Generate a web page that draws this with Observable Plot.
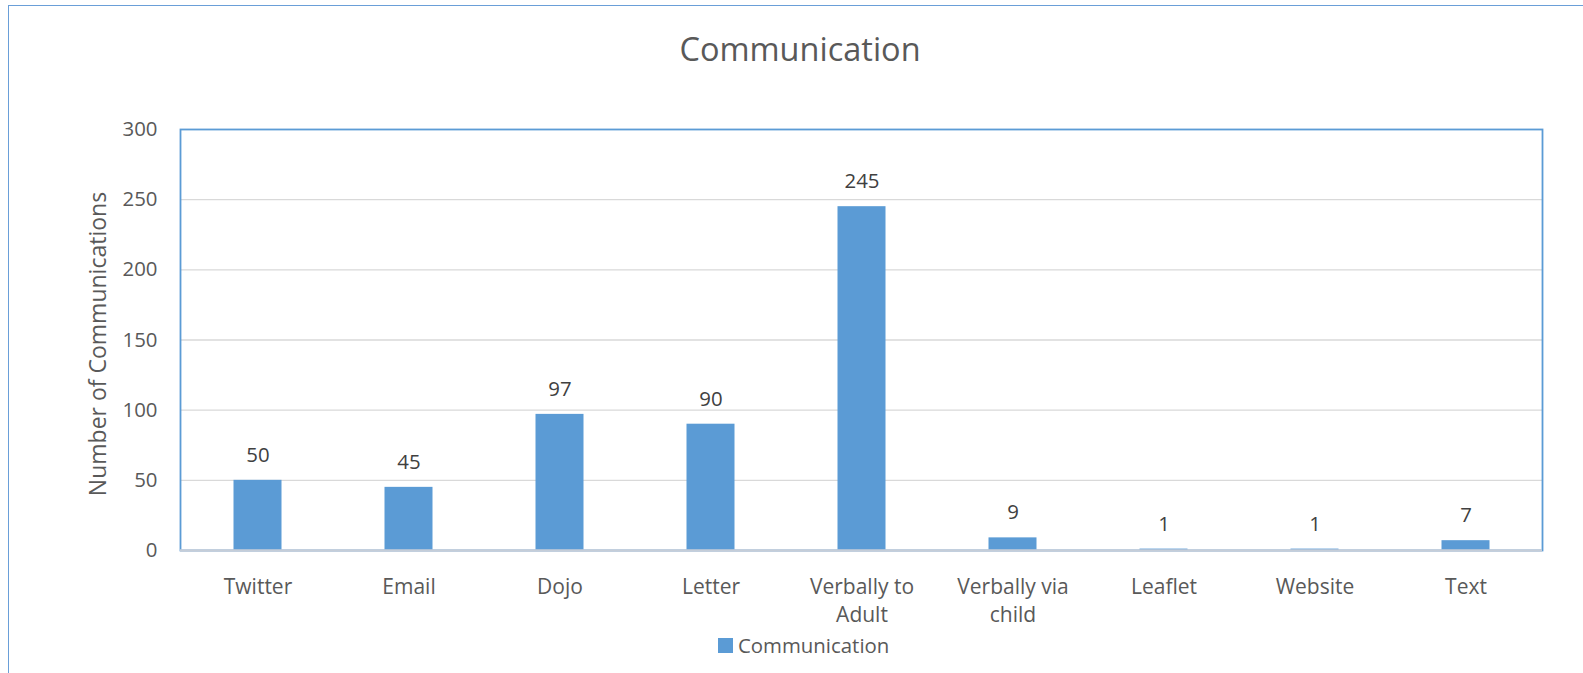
<!DOCTYPE html>
<html>
<head>
<meta charset="utf-8">
<script src="https://cdn.jsdelivr.net/npm/d3@7"></script>
<script src="https://cdn.jsdelivr.net/npm/@observablehq/plot@0.6"></script>
<style>
  html, body { margin: 0; padding: 0; background: #fff; overflow: hidden; width: 1583px; height: 673px; }
  #wrap { position: relative; width: 1583px; height: 673px; font-family: "Open Sans", sans-serif; color: #595959; }
  #outer { position: absolute; left: 8px; top: 5px; width: 1640px; height: 720px; border: 1.6px solid #6A9FD8; box-sizing: border-box; }
  #title { position: absolute; left: 0; top: 29px; width: 1600px; text-align: center; font-size: 32.5px; line-height: 40px; color: #595959; }
  #chart { position: absolute; left: 0; top: 100px; }
  #legend { position: absolute; left: 718px; top: 632px; display: flex; align-items: center; font-size: 20.4px; color: #595959; line-height: 26px; }
  #legend .sw { width: 15px; height: 15px; background: #5B9BD5; margin-right: 5px; }
</style>
</head>
<body>
<div id="wrap">
  <div id="outer"></div>
  <div id="title">Communication</div>
  <div id="chart"></div>
  <div id="legend"><span class="sw"></span><span>Communication</span></div>
</div>
<script>
const categories = ["Twitter", "Email", "Dojo", "Letter", "Verbally to Adult", "Verbally via child", "Leaflet", "Website", "Text"];
const tickLabels = ["Twitter", "Email", "Dojo", "Letter", "Verbally to\nAdult", "Verbally via\nchild", "Leaflet", "Website", "Text"];
const values = [50, 45, 97, 90, 245, 9, 1, 1, 7];
const yTicks = [0, 50, 100, 150, 200, 250, 300];
const seriesName = "Communication";
const yLabel = "Number of Communications";

const data = categories.map((c, i) => ({category: c, value: values[i]}));

const plot = Plot.plot({
  width: 1583,
  height: 530,
  marginTop: 29,
  marginBottom: 80,
  marginLeft: 180,
  marginRight: 41,
  style: {fontFamily: "'Open Sans', sans-serif", color: "#595959", background: "transparent"},
  x: {domain: categories, padding: 0, axis: null},
  y: {domain: [0, 300], axis: null},
  marks: [
    Plot.gridY(yTicks.filter(d => d > 0 && d < 300), {stroke: "#d9d9d9", strokeOpacity: 1, strokeWidth: 1.4}),
    Plot.frame({stroke: "#5B9BD5", strokeWidth: 1.8}),
    Plot.barY(data, {x: "category", y: "value", fill: "#5B9BD5", insetLeft: 51.5, insetRight: 51.5}),
    Plot.ruleY([0], {stroke: "#C5CDD8", strokeWidth: 2.6}),
    Plot.axisY({ticks: yTicks, tickSize: 0, tickPadding: 23, fontSize: 20.4, fill: "#595959", label: null}),
    Plot.axisX({tickSize: 0, tickPadding: 24, fontSize: 21, fill: "#595959", lineHeight: 1.33, label: null,
      tickFormat: d => tickLabels[categories.indexOf(d)]}),
    Plot.text(data, {x: "category", y: "value", text: d => String(d.value), dy: -25, fontSize: 20.4, fill: "#404040"}),
    Plot.text([yLabel], {frameAnchor: "left", textAnchor: "middle", text: d => d, rotate: -90, dx: -82, dy: 4, fontSize: 23, fill: "#595959"})
  ]
});
document.getElementById("chart").appendChild(plot);
</script>
</body>
</html>
